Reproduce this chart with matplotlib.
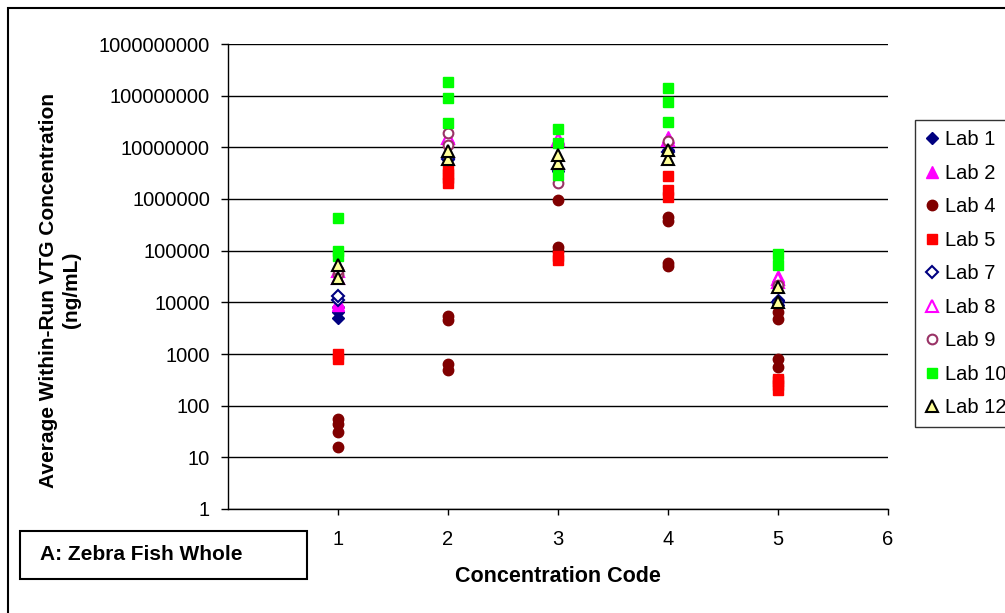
import matplotlib
matplotlib.use("Agg")
import matplotlib.pyplot as plt
from matplotlib.patches import Rectangle

plt.rcParams['font.family'] = ['Liberation Sans', 'DejaVu Sans']

labs = ["Lab 1", "Lab 2", "Lab 4", "Lab 5", "Lab 7", "Lab 8", "Lab 9", "Lab 10", "Lab 12"]

# concentration code -> values per lab
lab1_x = [1, 1, 1, 2, 3, 4, 5, 5]
lab1_y = [5000, 6500, 8000, 6.0e6, 3.5e6, 9.0e6, 9000, 11000]
lab2_x = [1, 1, 2, 3, 4, 5, 5]
lab2_y = [9000, 10000, 1.6e7, 1.5e7, 1.6e7, 30000, 32000]
lab4_x = [1, 1, 1, 1, 2, 2, 2, 2, 3, 3, 3, 4, 4, 4, 4, 5, 5, 5, 5]
lab4_y = [16, 31, 45, 55, 480, 650, 4500, 5500, 9.5e5, 1.0e5, 1.2e5,
          5.0e4, 5.8e4, 3.8e5, 4.5e5, 560, 800, 4800, 6500]
lab5_x = [1, 1, 2, 2, 2, 2, 3, 3, 4, 4, 4, 5, 5, 5, 5]
lab5_y = [800, 1000, 2.0e6, 2.5e6, 3.0e6, 4.0e6, 6.5e4, 8.0e4,
          1.1e6, 1.5e6, 2.8e6, 200, 250, 300, 330]
lab7_x = [1, 1, 2, 3, 4, 5]
lab7_y = [11000, 13000, 6.0e6, 3.8e6, 8.0e6, 10000]
lab8_x = [1, 1, 2, 3, 4, 5, 5]
lab8_y = [30000, 40000, 1.5e7, 1.4e7, 1.4e7, 25000, 28000]
lab9_x = [1, 1, 2, 2, 3, 4, 5]
lab9_y = [35000, 42000, 1.1e7, 1.9e7, 2.0e6, 1.3e7, 22000]
lab10_x = [1, 1, 1, 2, 2, 2, 3, 3, 3, 4, 4, 4, 5, 5]
lab10_y = [8.0e4, 1.0e5, 4.2e5, 3.0e7, 9.0e7, 1.8e8, 2.9e6, 1.2e7, 2.3e7,
           3.1e7, 7.6e7, 1.4e8, 5.2e4, 8.5e4]
lab12_x = [1, 1, 2, 2, 3, 3, 4, 4, 5, 5]
lab12_y = [30000, 52000, 6.0e6, 8.5e6, 5.0e6, 7.0e6, 6.0e6, 9.0e6, 10000, 20000]

y_ticks = [1, 10, 100, 1000, 10000, 100000, 1000000, 10000000, 100000000, 1000000000]
x_ticks = [1, 2, 3, 4, 5, 6]

fig = plt.figure(figsize=(10.05, 6.13), dpi=100)
ax = fig.add_axes([228/1005, 1-509/613, (888-228)/1005, (509-44)/613])

styles = [
    dict(marker='D', color='#000080', mfc='#000080', mec='#000080', ms=6),
    dict(marker='^', color='#FF00FF', mfc='#FF00FF', mec='#FF00FF', ms=8),
    dict(marker='o', color='#800000', mfc='#800000', mec='#800000', ms=7.5),
    dict(marker='s', color='#FF0000', mfc='#FF0000', mec='#FF0000', ms=7),
    dict(marker='D', color='#000080', mfc='white', mec='#000080', ms=6, mew=1.5),
    dict(marker='^', color='#FF00FF', mfc='white', mec='#FF00FF', ms=8, mew=1.5),
    dict(marker='o', color='#993366', mfc='white', mec='#993366', ms=7, mew=1.5),
    dict(marker='s', color='#00FF00', mfc='#00FF00', mec='#00FF00', ms=7),
    dict(marker='^', color='black', mfc='#FFFF99', mec='black', ms=8, mew=1.5),
]
data = [(lab1_x, lab1_y), (lab2_x, lab2_y), (lab4_x, lab4_y), (lab5_x, lab5_y),
        (lab7_x, lab7_y), (lab8_x, lab8_y), (lab9_x, lab9_y), (lab10_x, lab10_y),
        (lab12_x, lab12_y)]

handles = []
for lab, (xs, ys), st in zip(labs, data, styles):
    h, = ax.plot(xs, ys, linestyle='none', label=lab, **st)
    handles.append(h)

ax.set_yscale('log')
ax.set_ylim(1, 1e9)
ax.set_xlim(0, 6)
ax.set_yticks(y_ticks)
ax.set_yticklabels([str(v) for v in y_ticks], fontsize=14.5)
ax.yaxis.set_minor_locator(matplotlib.ticker.NullLocator())
ax.set_xticks(x_ticks)
ax.set_xticklabels([str(v) for v in x_ticks], fontsize=14.5)
ax.tick_params(axis='y', direction='out', length=5, width=1, pad=8)
ax.tick_params(axis='x', direction='out', length=4, width=1, pad=11)
ax.grid(axis='y', color='black', linewidth=1)
ax.set_axisbelow(True)
for s in ['top', 'right']:
    ax.spines[s].set_visible(False)
for s in ['left', 'bottom']:
    ax.spines[s].set_color('black')
    ax.spines[s].set_linewidth(1)

ax.set_xlabel('Concentration Code', fontsize=15.5, fontweight='bold', labelpad=12)
fig.text(60/1005, 1-290/613, 'Average Within-Run VTG Concentration\n(ng/mL)',
         rotation=90, ha='center', va='center', fontsize=15, fontweight='bold',
         multialignment='center', linespacing=1.3)

leg = fig.legend(handles=handles, loc='upper left',
                 bbox_to_anchor=(915/1005, 1-120/613), fontsize=14.5,
                 frameon=True, fancybox=False, edgecolor='black',
                 handlelength=0.7, handletextpad=0.3, labelspacing=0.72,
                 borderpad=0.5, borderaxespad=0)
leg.get_frame().set_linewidth(1)

# figure border
fig.patches.append(Rectangle((8/1005, -0.2), 1.2, 1.2 - 8/613,
                             transform=fig.transFigure, fill=False,
                             edgecolor='black', linewidth=1.5))
# label box
fig.patches.append(Rectangle((20/1005, 1-579/613), (307-20)/1005, (579-531)/613,
                             transform=fig.transFigure, fill=False,
                             edgecolor='black', linewidth=1.5))
fig.text(40/1005, 1-555/613, 'A: Zebra Fish Whole', fontsize=15,
         fontweight='bold', ha='left', va='center')

fig.savefig('out.png', dpi=100)
